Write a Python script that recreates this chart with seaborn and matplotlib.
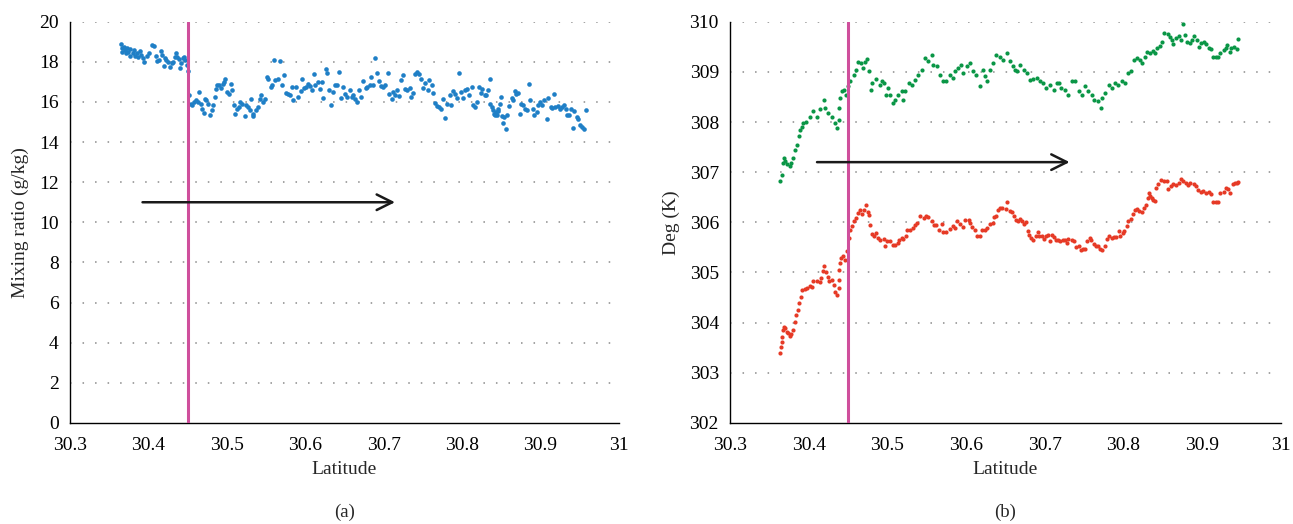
import numpy as np
import pandas as pd
import matplotlib
matplotlib.use("Agg")
import matplotlib.pyplot as plt
import seaborn as sns

# ---------------- data ----------------
blue_lat = [30.365, 30.366, 30.367, 30.369, 30.370, 30.371, 30.373, 30.374, 30.376, 30.377,
            30.380, 30.382, 30.383, 30.385, 30.387, 30.389, 30.391, 30.393, 30.395, 30.398,
            30.401, 30.404, 30.407, 30.410, 30.411, 30.414, 30.416, 30.418, 30.420, 30.421,
            30.423, 30.425, 30.427, 30.430, 30.432, 30.434, 30.435, 30.437, 30.439, 30.440,
            30.441, 30.444, 30.445, 30.447, 30.449, 30.450, 30.452, 30.454, 30.455, 30.458,
            30.461, 30.463, 30.465, 30.467, 30.469, 30.471, 30.472, 30.474, 30.476, 30.478,
            30.481, 30.483, 30.485, 30.486, 30.488, 30.490, 30.492, 30.495, 30.496, 30.498,
            30.500, 30.503, 30.505, 30.506, 30.509, 30.511, 30.513, 30.516, 30.517, 30.520,
            30.523, 30.525, 30.527, 30.529, 30.531, 30.533, 30.534, 30.537, 30.540, 30.542,
            30.544, 30.546, 30.549, 30.551, 30.553, 30.556, 30.558, 30.560, 30.562, 30.565,
            30.568, 30.570, 30.573, 30.576, 30.578, 30.580, 30.583, 30.585, 30.588, 30.591,
            30.594, 30.596, 30.598, 30.601, 30.604, 30.606, 30.608, 30.611, 30.613, 30.616,
            30.619, 30.621, 30.623, 30.626, 30.628, 30.630, 30.633, 30.636, 30.638, 30.641,
            30.643, 30.646, 30.648, 30.651, 30.653,
            30.657, 30.659, 30.661, 30.664, 30.666, 30.669, 30.671, 30.674, 30.677, 30.679,
            30.682, 30.684, 30.687, 30.689, 30.692, 30.694, 30.697, 30.699, 30.702, 30.705,
            30.707, 30.710, 30.712, 30.715, 30.717, 30.720, 30.722, 30.725, 30.727, 30.730,
            30.733, 30.735, 30.738, 30.740, 30.743, 30.745, 30.748, 30.750, 30.753, 30.756,
            30.758, 30.761, 30.763, 30.766, 30.768, 30.771, 30.773, 30.776, 30.778, 30.781,
            30.784, 30.786, 30.789, 30.791, 30.794, 30.796, 30.799, 30.801, 30.804, 30.806,
            30.809, 30.812, 30.814, 30.817, 30.819, 30.822, 30.824, 30.826, 30.829, 30.831,
            30.833, 30.835, 30.836, 30.838, 30.840, 30.841, 30.842, 30.843, 30.844, 30.846,
            30.846, 30.848, 30.849, 30.851, 30.852, 30.854, 30.856, 30.857, 30.860, 30.863,
            30.865, 30.867, 30.869, 30.871, 30.874, 30.875, 30.878, 30.880, 30.883, 30.885,
            30.887, 30.890, 30.892, 30.895, 30.897, 30.899, 30.902, 30.905, 30.908, 30.910,
            30.913, 30.915, 30.917, 30.919, 30.922, 30.925, 30.927, 30.930, 30.932, 30.934,
            30.936, 30.939, 30.941, 30.943, 30.946, 30.948, 30.950, 30.953, 30.955, 30.958]
mixing_ratio = [18.87, 18.67, 18.50, 18.75, 18.58, 18.42, 18.70, 18.50, 18.63, 18.30,
                18.42, 18.58, 18.30, 18.42, 18.25, 18.53, 18.33, 18.17, 18.00, 18.30,
                18.42, 18.83, 18.80, 18.30, 18.03, 18.08, 18.53, 18.33, 17.80, 18.17,
                18.08, 18.00, 17.75, 17.92, 18.00, 18.25, 18.42, 18.25, 18.13, 17.67,
                17.92, 18.17, 18.25, 18.08, 17.83, 17.53, 16.37, 15.92, 15.83, 16.00,
                16.08, 16.00, 16.50, 15.92, 15.63, 15.47, 16.17, 16.08, 15.92, 15.37,
                15.58, 15.83, 16.25, 16.67, 16.83, 16.87, 16.70, 16.92, 17.00, 17.17,
                16.50, 16.42, 16.92, 16.58, 15.87, 15.42, 15.67, 15.75, 16.00, 15.92,
                15.30, 15.83, 15.75, 15.58, 16.17, 15.30, 15.42, 15.58, 15.75, 16.17,
                16.37, 16.00, 16.13, 17.25, 17.13, 16.75, 16.87, 18.08, 17.08, 17.17,
                18.03, 16.83, 17.33, 16.47, 16.42, 16.33, 16.75, 16.08, 16.75, 16.25,
                16.53, 17.17, 16.70, 16.75, 16.92, 16.80, 16.58, 17.37, 16.83, 17.00,
                16.67, 17.00, 16.20, 17.63, 17.42, 16.58, 15.83, 16.50, 16.87, 16.83,
                17.50, 16.20, 16.75, 16.42, 16.25,
                16.58, 16.25, 16.33, 16.17, 16.00, 16.58, 16.25, 17.03, 16.70, 16.75,
                16.83, 17.23, 16.83, 18.17, 17.42, 17.05, 16.80, 16.75, 16.83, 17.42,
                16.42, 16.13, 16.50, 16.37, 16.58, 16.30, 17.08, 17.33, 16.67, 16.58,
                16.72, 16.23, 16.47, 17.37, 17.47, 17.37, 17.17, 16.72, 16.95, 16.62,
                17.12, 16.87, 16.47, 15.93, 15.80, 15.75, 15.63, 16.17, 15.20, 15.88,
                16.37, 15.83, 16.53, 16.42, 16.20, 17.45, 16.50, 16.22, 16.62, 16.63,
                16.33, 16.75, 15.87, 15.75, 16.00, 16.75, 16.47, 16.67, 16.33, 16.37,
                16.58, 15.92, 17.13, 15.75, 15.58, 15.42, 15.33, 15.50, 15.37, 15.53,
                15.67, 15.92, 16.25, 15.30, 14.97, 15.25, 14.67, 15.37, 15.78, 16.20,
                16.08, 16.53, 16.42, 16.47, 15.42, 15.92, 15.83, 15.67, 15.58, 16.92,
                16.08, 15.63, 15.33, 15.50, 15.83, 16.00, 15.87, 16.08, 15.13, 16.20,
                15.75, 15.70, 16.38, 15.75, 15.80, 15.63, 15.75, 15.83, 15.67, 15.33,
                15.33, 15.67, 14.72, 15.57, 15.25, 15.13, 14.87, 14.75, 14.67, 15.58]

green_lat = [30.364, 30.366, 30.367, 30.369, 30.370, 30.372, 30.376, 30.378, 30.380, 30.383,
             30.385, 30.387, 30.389, 30.391, 30.393, 30.397, 30.402, 30.406, 30.410, 30.414,
             30.419, 30.421, 30.425, 30.429, 30.433, 30.436, 30.438, 30.439, 30.440, 30.442,
             30.445, 30.447, 30.450, 30.453, 30.457, 30.460, 30.463, 30.466, 30.469, 30.471,
             30.474, 30.477, 30.479, 30.481, 30.486, 30.490, 30.493, 30.496, 30.498, 30.501,
             30.503, 30.507, 30.510, 30.514, 30.518, 30.520, 30.522, 30.527, 30.531, 30.535,
             30.539, 30.544, 30.548, 30.552, 30.556, 30.558, 30.563, 30.567, 30.571, 30.575,
             30.580, 30.583, 30.586, 30.590, 30.593, 30.596, 30.601, 30.605, 30.609, 30.613,
             30.618, 30.621, 30.624, 30.627, 30.630, 30.634, 30.638, 30.643, 30.647, 30.652,
             30.656, 30.659, 30.662, 30.665, 30.668, 30.673, 30.677, 30.681, 30.685, 30.690,
             30.694, 30.698, 30.702, 30.707, 30.711, 30.715, 30.718, 30.721, 30.726, 30.730,
             30.734, 30.738, 30.743, 30.747, 30.751, 30.755, 30.760, 30.762, 30.768, 30.771,
             30.773, 30.776, 30.781, 30.785, 30.789, 30.793, 30.798, 30.802, 30.806, 30.810,
             30.813, 30.817, 30.821, 30.824, 30.827, 30.830, 30.834, 30.837, 30.840, 30.842,
             30.846, 30.849, 30.851, 30.856, 30.859, 30.861, 30.863, 30.867, 30.870, 30.873,
             30.875, 30.878, 30.881, 30.884, 30.887, 30.890, 30.893, 30.896, 30.899, 30.902,
             30.905, 30.908, 30.911, 30.913, 30.917, 30.920, 30.923, 30.927, 30.930, 30.932,
             30.935, 30.937, 30.940, 30.944, 30.946]
theta_e = [306.83, 306.95, 307.19, 307.29, 307.22, 307.17, 307.12, 307.19, 307.29, 307.45,
           307.55, 307.72, 307.85, 307.91, 307.98, 308.01, 308.11, 308.21, 308.11, 308.25,
           308.44, 308.28, 308.18, 308.11, 307.98, 307.88, 308.05, 308.28, 308.48, 308.61,
           308.64, 308.54, 308.71, 308.81, 308.94, 309.04, 309.20, 309.17, 309.07, 309.20,
           309.25, 309.01, 308.64, 308.78, 308.85, 308.74, 308.81, 308.78, 308.54, 308.68,
           308.54, 308.38, 308.44, 308.54, 308.61, 308.44, 308.61, 308.78, 308.74, 308.84,
           308.94, 309.04, 309.27, 309.21, 309.34, 309.14, 309.11, 308.94, 308.81, 308.81,
           308.94, 308.87, 309.01, 309.07, 309.14, 308.97, 309.11, 309.17, 309.01, 308.94,
           308.71, 309.04, 308.91, 308.81, 309.04, 309.17, 309.34, 309.30, 309.24, 309.38,
           309.21, 309.11, 309.04, 309.01, 309.14, 309.04, 308.97, 308.84, 308.85, 308.87,
           308.81, 308.78, 308.68, 308.74, 308.64, 308.78, 308.78, 308.68, 308.64, 308.54,
           308.81, 308.81, 308.61, 308.54, 308.71, 308.61, 308.54, 308.44, 308.41, 308.28,
           308.48, 308.58, 308.74, 308.68, 308.78, 308.74, 308.81, 308.78, 308.97, 309.01,
           309.24, 309.27, 309.24, 309.17, 309.30, 309.40, 309.37, 309.42, 309.37, 309.47,
           309.52, 309.60, 309.77, 309.75, 309.70, 309.64, 309.56, 309.67, 309.72, 309.64,
           309.95, 309.73, 309.60, 309.57, 309.64, 309.72, 309.64, 309.50, 309.57, 309.60,
           309.56, 309.47, 309.45, 309.29, 309.29, 309.29, 309.38, 309.44, 309.47, 309.54,
           309.40, 309.47, 309.50, 309.45, 309.66]

red_lat = [30.364, 30.365, 30.366, 30.366, 30.367, 30.368, 30.370, 30.372, 30.374, 30.376,
           30.378, 30.380, 30.382, 30.384, 30.386, 30.388, 30.390, 30.392, 30.395, 30.398,
           30.401, 30.404, 30.406, 30.410, 30.414, 30.415, 30.418, 30.419, 30.422, 30.424,
           30.426, 30.430, 30.432, 30.434, 30.436, 30.438, 30.438, 30.439, 30.440, 30.441,
           30.444, 30.446, 30.448, 30.451, 30.452, 30.455, 30.458, 30.460, 30.463, 30.465,
           30.468, 30.470, 30.473, 30.475, 30.477, 30.478, 30.480, 30.483, 30.486, 30.488,
           30.491, 30.495, 30.497, 30.500, 30.503, 30.507, 30.510, 30.513, 30.515, 30.518,
           30.520, 30.523, 30.525, 30.529, 30.532, 30.535, 30.538, 30.542, 30.546, 30.549,
           30.552, 30.556, 30.559, 30.562, 30.565, 30.569, 30.571, 30.575, 30.579, 30.583,
           30.586, 30.589, 30.592, 30.596, 30.599, 30.603, 30.605, 30.608, 30.611, 30.614,
           30.618, 30.620, 30.624, 30.627, 30.630, 30.634, 30.635, 30.638, 30.641, 30.643,
           30.646, 30.650, 30.652, 30.656, 30.658, 30.661, 30.663, 30.666, 30.668, 30.671,
           30.674, 30.676, 30.678, 30.680, 30.683, 30.685, 30.689, 30.691, 30.693, 30.696,
           30.699, 30.702, 30.704, 30.707, 30.709, 30.712, 30.714, 30.717, 30.719, 30.723,
           30.726, 30.728, 30.730, 30.734, 30.737, 30.740, 30.743, 30.746, 30.749, 30.751,
           30.754, 30.757, 30.759, 30.762, 30.765, 30.768, 30.770, 30.773, 30.776, 30.779,
           30.782, 30.785, 30.788, 30.791, 30.794, 30.796, 30.799, 30.801, 30.804, 30.806,
           30.809, 30.812, 30.814, 30.817, 30.820, 30.823, 30.826, 30.829, 30.831, 30.832,
           30.834, 30.836, 30.838, 30.840, 30.841, 30.844, 30.847, 30.851, 30.855, 30.857,
           30.860, 30.863, 30.867, 30.870, 30.873, 30.876, 30.879, 30.882, 30.885, 30.889,
           30.892, 30.895, 30.898, 30.901, 30.905, 30.908, 30.911, 30.914, 30.918, 30.920,
           30.923, 30.927, 30.930, 30.933, 30.935, 30.939, 30.942, 30.944, 30.946]
theta = [303.40, 303.52, 303.62, 303.72, 303.85, 303.92, 303.89, 303.82, 303.79, 303.73,
         303.77, 303.85, 304.02, 304.15, 304.25, 304.39, 304.51, 304.65, 304.67, 304.69,
         304.72, 304.71, 304.82, 304.82, 304.80, 304.89, 305.02, 305.13, 305.00, 304.91,
         304.82, 304.85, 304.75, 304.62, 304.55, 304.69, 304.85, 305.05, 305.19, 305.29,
         305.32, 305.25, 305.42, 305.69, 305.85, 305.92, 306.02, 306.09, 306.19, 306.24,
         306.17, 306.24, 306.35, 306.20, 306.15, 305.95, 305.77, 305.72, 305.79, 305.69,
         305.65, 305.67, 305.52, 305.62, 305.62, 305.55, 305.55, 305.59, 305.65, 305.69,
         305.67, 305.72, 305.84, 305.85, 305.89, 305.95, 305.99, 306.12, 306.09, 306.13,
         306.11, 306.02, 305.95, 305.95, 305.85, 305.97, 305.80, 305.80, 305.87, 305.93,
         305.89, 306.02, 305.97, 305.91, 306.04, 306.05, 305.99, 305.91, 305.85, 305.73,
         305.73, 305.84, 305.84, 305.89, 305.97, 305.99, 306.11, 306.12, 306.24, 306.28,
         306.29, 306.27, 306.40, 306.22, 306.20, 306.13, 306.05, 306.02, 306.07, 306.02,
         305.97, 306.00, 305.82, 305.75, 305.69, 305.65, 305.72, 305.80, 305.72, 305.72,
         305.67, 305.72, 305.75, 305.62, 305.75, 305.71, 305.65, 305.64, 305.62, 305.64,
         305.65, 305.59, 305.67, 305.65, 305.62, 305.51, 305.52, 305.45, 305.47, 305.47,
         305.62, 305.69, 305.65, 305.57, 305.53, 305.52, 305.47, 305.44, 305.52, 305.67,
         305.72, 305.69, 305.70, 305.70, 305.82, 305.72, 305.79, 305.82, 305.93, 306.02,
         306.07, 306.17, 306.25, 306.27, 306.22, 306.20, 306.29, 306.35, 306.49, 306.59,
         306.53, 306.49, 306.44, 306.42, 306.69, 306.76, 306.85, 306.82, 306.82, 306.66,
         306.72, 306.76, 306.74, 306.78, 306.87, 306.82, 306.79, 306.74, 306.78, 306.76,
         306.72, 306.64, 306.60, 306.62, 306.59, 306.60, 306.56, 306.40, 306.40, 306.41,
         306.59, 306.60, 306.69, 306.67, 306.59, 306.76, 306.78, 306.78, 306.80]

x_ticks = [30.3, 30.4, 30.5, 30.6, 30.7, 30.8, 30.9, 31.0]
x_tick_labels = ["30.3", "30.4", "30.5", "30.6", "30.7", "30.8", "30.9", "31"]
left_y_ticks = [0, 2, 4, 6, 8, 10, 12, 14, 16, 18, 20]
right_y_ticks = [302, 303, 304, 305, 306, 307, 308, 309, 310]
boundary_lat = 30.45
arrow_a = (30.389, 30.718, 11.0)
arrow_b = (30.407, 30.735, 307.2)

# ---------------- style ----------------
sns.set_style("white")
plt.rcParams["font.family"] = ["Liberation Serif", "DejaVu Serif"]
plt.rcParams["font.size"] = 14

BLUE = "#1f7fc6"
GREEN = "#0a9646"
RED = "#e63a26"
PINK = "#cf4f9c"
GRID = "#8a8a8a"

fig = plt.figure(figsize=(12.93, 5.24), dpi=100)
ax1 = fig.add_axes([0.0541, 0.193, 0.4246, 0.7655])
ax2 = fig.add_axes([0.5646, 0.193, 0.4261, 0.7655])

df_a = pd.DataFrame({"lat": blue_lat, "q": mixing_ratio})
df_g = pd.DataFrame({"lat": green_lat, "t": theta_e})
df_r = pd.DataFrame({"lat": red_lat, "t": theta})

sns.scatterplot(data=df_a, x="lat", y="q", ax=ax1, color=BLUE, s=11, linewidth=0, zorder=3)
sns.scatterplot(data=df_g, x="lat", y="t", ax=ax2, color=GREEN, s=9, linewidth=0, zorder=3)
sns.scatterplot(data=df_r, x="lat", y="t", ax=ax2, color=RED, s=9, linewidth=0, zorder=3)

for ax, yt, ylabel, tag in [(ax1, left_y_ticks, "Mixing ratio (g/kg)", "(a)"),
                            (ax2, right_y_ticks, "Deg (K)", "(b)")]:
    ax.set_xlim(x_ticks[0], x_ticks[-1])
    ax.set_ylim(yt[0], yt[-1])
    ax.set_xticks(x_ticks)
    ax.set_xticklabels(x_tick_labels)
    ax.set_yticks(yt)
    ax.set_yticklabels([str(v) for v in yt])
    ax.set_xlabel("Latitude", fontsize=14, labelpad=5)
    ax.set_ylabel(ylabel, fontsize=14, labelpad=7)
    for v in yt[1:]:
        ax.axhline(v, color=GRID, lw=1.1, ls=(0, (1, 7.2)), zorder=1)
    for side in ["top", "right"]:
        ax.spines[side].set_visible(False)
    for side in ["left", "bottom"]:
        ax.spines[side].set_color("black")
        ax.spines[side].set_linewidth(1.0)
    ax.tick_params(axis="both", direction="out", length=4, width=0.8, colors="black",
                   labelsize=14)
    ax.tick_params(axis="x", pad=6)
    ax.tick_params(axis="y", pad=4)
    ax.axvline(boundary_lat, color=PINK, lw=2.2, zorder=4)
    ax.text(0.5, -0.222, tag, transform=ax.transAxes, ha="center", va="center", fontsize=13.5)

ax1.annotate("", xy=(arrow_a[1], arrow_a[2]), xytext=(arrow_a[0], arrow_a[2]),
             arrowprops=dict(arrowstyle="->", lw=1.8, color="#1a1a1a", mutation_scale=28),
             zorder=5)
ax2.annotate("", xy=(arrow_b[1], arrow_b[2]), xytext=(arrow_b[0], arrow_b[2]),
             arrowprops=dict(arrowstyle="->", lw=1.8, color="#1a1a1a", mutation_scale=28),
             zorder=5)

fig.savefig("out.png", dpi=100)
